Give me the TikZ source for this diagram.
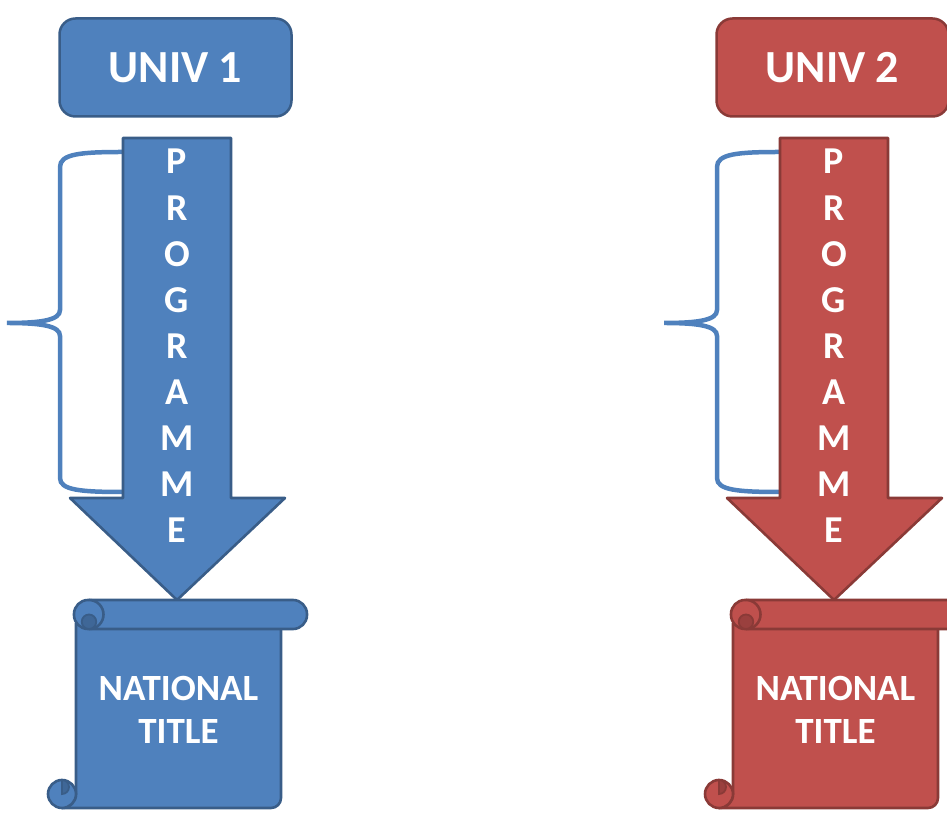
\documentclass[tikz,border=0pt]{standalone}
\usepackage{fontspec}
\setmainfont{Carlito}
\definecolor{univblue}{HTML}{4F81BD}
\definecolor{univred}{HTML}{C0504D}
\usetikzlibrary{positioning}

\begin{document}
\begin{tikzpicture}[
        x=1pt, y=1pt,
        box/.style={draw=#1!72!black, fill=#1, line width=2.5pt, rounded corners=16pt,
                     minimum width=232pt, minimum height=98pt, text=white,
                     font=\fontsize{46}{50}\selectfont\bfseries},
        shp/.style={draw=#1!72!black, fill=#1, line width=2.6pt, line join=round},
        curl/.style={draw=#1!72!black, fill=#1!80!black, line width=1.8pt},
        brace/.style={draw=univblue, line width=4.5pt},
        lbl/.style={text=white, align=center}
      ]
        \useasboundingbox (0,0) rectangle (947,813);

        \foreach \n/\dx/\col in {1/0/univblue, 2/657/univred} {
          \begin{scope}[xshift=\dx]
            % university box
            \node[box=\col] (univ\n) at (175.5,745.5) {UNIV \n};

            % brace next to the programme
            \draw[brace] (123,661) .. controls (80,661) and (60,659) .. (60,646)
                         -- (60,503) .. controls (60,493) and (42,490) .. (7,490)
                         .. controls (42,490) and (60,487) .. (60,477)
                         -- (60,335) .. controls (60,323) and (80,321) .. (123,321);

            % programme arrow
            \draw[shp=\col] (123,675) -- (231,675) -- (231,315) -- (285,315)
                            -- (177,213) -- (70,315) -- (123,315) -- cycle;
            \node[lbl, font=\fontsize{38}{46.1}\selectfont\bfseries] (prog\n) at (177,467)
                 {P\\R\\O\\G\\R\\A\\M\\M\\E};

            % scroll
            \draw[shp=\col] (76,190) -- (76,19) arc[start angle=0, end angle=-90, radius=14]
                            -- (271,5) arc[start angle=-90, end angle=0, radius=10]
                            -- (281,190) -- cycle;
            \draw[shp=\col] (62,19) circle[radius=14];
            \draw[curl=\col] (62,33) arc[start angle=90, end angle=-90, radius=7] -- cycle;
            \draw[shp=\col, rounded corners=14pt] (74,184) rectangle (307,213);
            \draw[shp=\col] (89,213) arc[start angle=90, end angle=-90, radius=14.5];
            \draw[curl=\col] (89,198.5) arc[start angle=90, end angle=270, radius=7.25]
                             arc[start angle=-90, end angle=90, radius=7.25] -- cycle;
            \node[lbl, font=\fontsize{37}{43}\selectfont\bfseries] (title\n) at (178.5,103)
                 {NATIONAL\\TITLE};
          \end{scope}
        }
      \end{tikzpicture}
\end{document}
